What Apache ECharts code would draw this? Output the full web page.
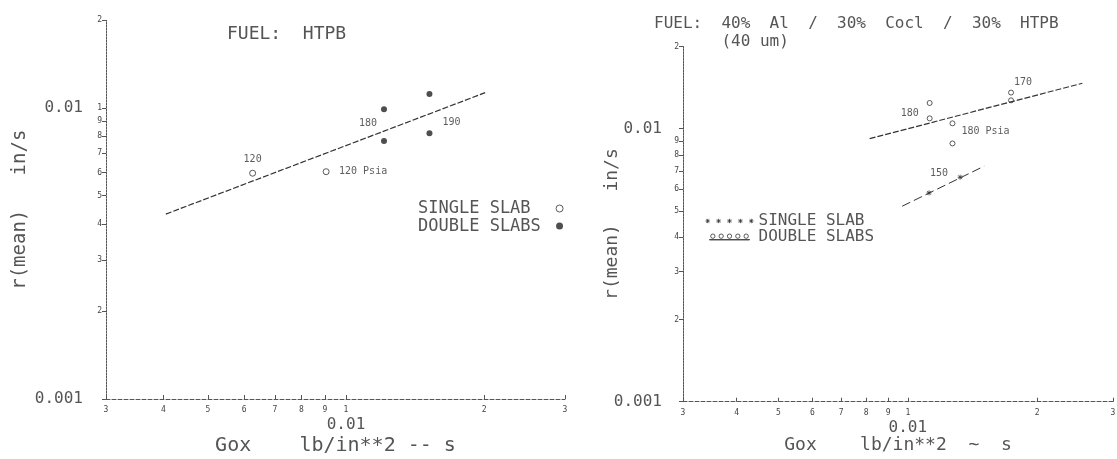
<!DOCTYPE html>
<html><head><meta charset="utf-8">
<script src="https://cdn.jsdelivr.net/npm/echarts@6/dist/echarts.min.js"></script>
<style>html,body{margin:0;padding:0;background:#fff}#c{width:1117px;height:459px}</style>
</head><body><div id="c"></div>
<script>
// ---------------- data ----------------
const leftTitle = 'FUEL:  HTPB';
const rightTitle = 'FUEL:  40%  Al  /  30%  Cocl  /  30%  HTPB\n       (40 um)';
const xName = ['Gox    lb/in**2 -- s', 'Gox    lb/in**2  ~  s'];
const yName = 'r(mean)   in/s';

const xTickValues = [0.003, 0.004, 0.005, 0.006, 0.007, 0.008, 0.009, 0.01, 0.02, 0.03];
const xTickText   = ['3', '4', '5', '6', '7', '8', '9', '1', '2', '3'];
const xDecadeValues = [0.01];
const xDecadeText   = ['0.01'];

const yTickValues    = [0.001, 0.002, 0.003, 0.004, 0.005, 0.006, 0.007, 0.008, 0.009, 0.01, 0.02];
const yTickTextLeft  = ['', '2', '3', '4', '5', '6', '7', '8', '9', '1', '2'];
const yTickTextRight = ['', '2', '3', '4', '5', '6', '7', '8', '9', '', '2'];
const yDecadeValues = [0.001, 0.01];
const yDecadeText   = ['0.001', '0.01'];

// Left chart: FUEL HTPB
const leftSingleSlab   = [[0.00626, 0.00597], [0.00905, 0.00604]];
const leftSingleLabels = ['120', '120 Psia'];
const leftDoubleSlabs  = [[0.0121, 0.0099], [0.0121, 0.0077], [0.0152, 0.01117], [0.0152, 0.00819]];
const leftDoubleLabels = ['', '180', '', '190'];
const leftFit          = [[0.00405, 0.00432], [0.0201, 0.01129]];

// Right chart: 40% Al / 30% Cocl / 30% HTPB
const rightDoubleSlabs  = [[0.01124, 0.01242], [0.01124, 0.01091], [0.0127, 0.01046], [0.0127, 0.00883], [0.01738, 0.01356], [0.01738, 0.0127]];
const rightDoubleLabels = ['', '180', '180 Psia', '', '170', ''];
const rightDoubleFit    = [[0.00815, 0.00919], [0.02546, 0.01467]];
const rightSingleSlab   = [[0.0112, 0.00582], [0.01323, 0.00664]];
const rightSingleLabels = ['150', ''];
const rightSingleFit    = [[0.0097, 0.0052], [0.01505, 0.00729]];

const legendNames = ['SINGLE SLAB', 'DOUBLE SLABS'];

// ---------------- styling / layout ----------------
const MONO = '"DejaVu Sans Mono", "Liberation Mono", monospace';
const leftOffsets  = {'120': [0, -14], '120 Psia': [37, 0], '180': [-16, -18], '190': [22, -11]};
const rightOffsets = {'180': [-20, -5], '180 Psia': [33, 8], '170': [12, -10], '150': [10, -19]};

const near = (a, b) => Math.abs(a - b) <= Math.abs(b) * 1e-6;
function findIdx(arr, v) { for (let i = 0; i < arr.length; i++) if (near(v, arr[i])) return i; return -1; }

function withLabels(points, labels, offsets) {
  return points.map((p, i) => labels[i] ? {
    value: p,
    label: {show: true, formatter: labels[i], position: 'inside', offset: offsets[labels[i]],
            fontFamily: MONO, fontSize: 10, color: '#333'}
  } : {value: p});
}

function xAxisFor(gi, name, nameSize, margin, nameGap) {
  return {
    type: 'log', logBase: 10, gridIndex: gi, min: 0.003, max: 0.03,
    axisLine: {show: true, lineStyle: {color: '#555', width: 1, type: [4, 2]}},
    axisTick: {show: true, customValues: xTickValues, inside: true, length: 4, lineStyle: {color: '#555', width: 1}},
    axisLabel: {
      show: true, customValues: xTickValues, margin: margin, showMinLabel: true, showMaxLabel: true, hideOverlap: false,
      formatter: v => {
        const i = findIdx(xTickValues, v), j = findIdx(xDecadeValues, v);
        let s = '{s|' + (i >= 0 ? xTickText[i] : '') + '}';
        if (j >= 0) s += '\n{b|' + xDecadeText[j] + '}';
        return s;
      },
      rich: {
        s: {fontFamily: MONO, fontSize: 8, lineHeight: 10, color: '#444'},
        b: {fontFamily: MONO, fontSize: 16, lineHeight: 20, color: '#555'}
      }
    },
    splitLine: {show: false}, minorTick: {show: false},
    name: name, nameLocation: 'middle', nameGap: nameGap, nameMoveOverlap: false,
    nameTextStyle: {fontFamily: MONO, fontSize: nameSize, color: '#555'}
  };
}

function yAxisFor(gi, smallTexts, gapW, nameGap, nameSize) {
  return {
    type: 'log', logBase: 10, gridIndex: gi, min: 0.001, max: 0.02,
    axisLine: {show: true, lineStyle: {color: '#555', width: 1, type: [2, 1]}},
    axisTick: {show: true, customValues: yTickValues, inside: false, length: 4, lineStyle: {color: '#555', width: 1}},
    axisLabel: {
      show: true, customValues: yTickValues, margin: 4, showMinLabel: true, showMaxLabel: true, hideOverlap: false,
      formatter: v => {
        const i = findIdx(yTickValues, v), j = findIdx(yDecadeValues, v);
        let s = '';
        if (j >= 0) s += '{b|' + yDecadeText[j] + '}{g|}';
        const t = i >= 0 ? smallTexts[i] : '';
        s += t ? '{s|' + t + '}' : '{sp|}';
        return s;
      },
      rich: {
        s: {fontFamily: MONO, fontSize: 8, color: '#444', width: 5, align: 'right'},
        sp: {width: 5},
        g: {width: gapW},
        b: {fontFamily: MONO, fontSize: 16, color: '#555'}
      }
    },
    splitLine: {show: false}, minorTick: {show: false},
    name: yName, nameLocation: 'middle', nameGap: nameGap, nameMoveOverlap: false,
    nameTextStyle: {fontFamily: MONO, fontSize: nameSize, color: '#555'}
  };
}

const starSymbol = 'path://M-2 0 L2 0 M0 -2 L0 2 M-1.5 -1.5 L1.5 1.5 M-1.5 1.5 L1.5 -1.5';
let starRow = '';
for (let k = 0; k < 5; k++) {
  const c = 2.5 + 10 * k;
  starRow += 'M' + (c - 2) + ' 2.5 L' + (c + 2) + ' 2.5 M' + c + ' 0.5 L' + c + ' 4.5 M' + (c - 1.5) + ' 1 L' + (c + 1.5) + ' 4 M' + (c - 1.5) + ' 4 L' + (c + 1.5) + ' 1 ';
}
let circleRow = '';
for (let k = 0; k < 5; k++) {
  const c = 4 + 10 * k;
  circleRow += 'M' + (c - 2.6) + ' 3 A2.6 2.6 0 1 0 ' + (c + 2.6) + ' 3 A2.6 2.6 0 1 0 ' + (c - 2.6) + ' 3 Z ';
}
circleRow += 'M0 7 L48 7 L48 7.6 L0 7.6 Z';

const openStyle = {color: '#fff', borderColor: '#333', borderWidth: 1};
const fillStyle = {color: '#222', borderColor: '#222', borderWidth: 0};
const starStyle = {color: 'transparent', borderColor: '#333', borderWidth: 1};

const option = {
  animation: false,
  backgroundColor: '#fff',
  textStyle: {fontFamily: MONO},
  title: [
    {text: leftTitle, left: 222, top: 20, textStyle: {fontFamily: MONO, fontSize: 18, fontWeight: 'normal', color: '#555'}},
    {text: rightTitle, left: 649, top: 10, textStyle: {fontFamily: MONO, fontSize: 16, fontWeight: 'normal', color: '#555', lineHeight: 18}}
  ],
  grid: [
    {left: 106, top: 20.4, width: 459, height: 378.6, containLabel: false, outerBoundsMode: 'none'},
    {left: 683, top: 46.5, width: 430, height: 355.2, containLabel: false, outerBoundsMode: 'none'}
  ],
  xAxis: [xAxisFor(0, xName[0], 20, 6, 37), xAxisFor(1, xName[1], 18, 6, 35)],
  yAxis: [yAxisFor(0, yTickTextLeft, 14, 76, 19), yAxisFor(1, yTickTextRight, 12, 62, 18)],
  legend: [
    {
      orient: 'vertical', left: 413, top: 195, align: 'right', itemWidth: 7, itemHeight: 7, itemGap: 0.6,
      selectedMode: false,
      data: [
        {name: 'SINGLE SLAB', icon: 'circle', itemStyle: openStyle},
        {name: 'DOUBLE SLABS', icon: 'circle', itemStyle: fillStyle}
      ],
      formatter: n => n === 'SINGLE SLAB' ? 'SINGLE SLAB  ' : 'DOUBLE SLABS ',
      textStyle: {fontFamily: MONO, fontSize: 17, lineHeight: 17, color: '#555'}
    },
    {
      orient: 'vertical', left: 700, top: 208, align: 'left', itemWidth: 48, itemHeight: 6, itemGap: 0,
      selectedMode: false,
      data: [
        {name: 'SINGLE SLAB (Al)', icon: 'path://' + starRow, itemStyle: starStyle},
        {name: 'DOUBLE SLABS (Al)', icon: 'path://' + circleRow, itemStyle: openStyle}
      ],
      formatter: n => n.indexOf('SINGLE') === 0 ? legendNames[0] : legendNames[1],
      textStyle: {fontFamily: MONO, fontSize: 16, lineHeight: 16, color: '#555'}
    }
  ],
  series: [
    {name: 'HTPB fit', type: 'line', xAxisIndex: 0, yAxisIndex: 0, data: leftFit, showSymbol: false, silent: true,
     lineStyle: {color: '#333', width: 1.2, type: [6, 2]}},
    {name: 'SINGLE SLAB', type: 'scatter', xAxisIndex: 0, yAxisIndex: 0, symbol: 'circle', symbolSize: 6,
     itemStyle: openStyle, data: withLabels(leftSingleSlab, leftSingleLabels, leftOffsets)},
    {name: 'DOUBLE SLABS', type: 'scatter', xAxisIndex: 0, yAxisIndex: 0, symbol: 'circle', symbolSize: 6,
     itemStyle: fillStyle, data: withLabels(leftDoubleSlabs, leftDoubleLabels, leftOffsets)},

    {name: 'Al double fit', type: 'line', xAxisIndex: 1, yAxisIndex: 1, data: rightDoubleFit, showSymbol: false, silent: true,
     lineStyle: {color: '#333', width: 1.2, type: [6, 2]}},
    {name: 'Al single fit', type: 'line', xAxisIndex: 1, yAxisIndex: 1, data: rightSingleFit, showSymbol: false, silent: true,
     lineStyle: {color: '#333', width: 1, type: [9, 4]}},
    {name: 'DOUBLE SLABS (Al)', type: 'scatter', xAxisIndex: 1, yAxisIndex: 1, symbol: 'circle', symbolSize: 5,
     itemStyle: openStyle, data: withLabels(rightDoubleSlabs, rightDoubleLabels, rightOffsets)},
    {name: 'SINGLE SLAB (Al)', type: 'scatter', xAxisIndex: 1, yAxisIndex: 1, symbol: starSymbol, symbolSize: 5,
     itemStyle: starStyle, data: withLabels(rightSingleSlab, rightSingleLabels, rightOffsets)}
  ]
};

const chart = echarts.init(document.getElementById('c'), null, {renderer: 'canvas'});
chart.setOption(option);
</script>
</body></html>
